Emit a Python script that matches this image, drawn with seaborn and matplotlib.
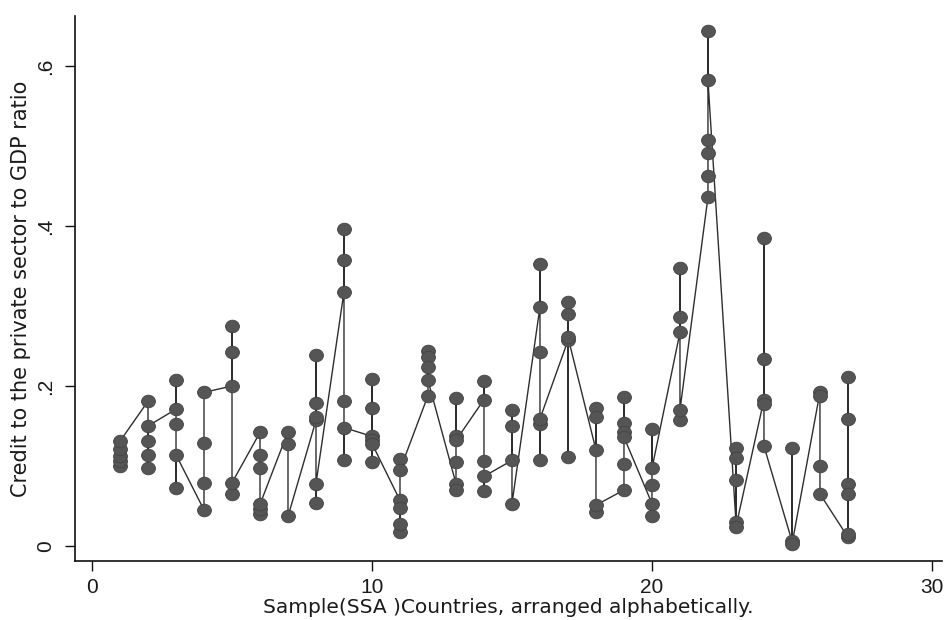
import numpy as np
import pandas as pd
import matplotlib
matplotlib.use("Agg")
import matplotlib.pyplot as plt
from matplotlib.path import Path
import seaborn as sns

# Country index (alphabetical order) for each observation, in data order
country = [1, 1, 1, 1, 1,
           2, 2, 2, 2, 2,
           3, 3, 3, 3, 3,
           4, 4, 4, 4,
           5, 5, 5, 5, 5,
           6, 6, 6, 6, 6, 6,
           7, 7, 7,
           8, 8, 8, 8, 8, 8,
           9, 9, 9, 9, 9, 9,
           10, 10, 10, 10, 10, 10,
           11, 11, 11, 11, 11, 11,
           12, 12, 12, 12, 12,
           13, 13, 13, 13, 13, 13,
           14, 14, 14, 14, 14,
           15, 15, 15, 15,
           16, 16, 16, 16, 16, 16,
           17, 17, 17, 17, 17,
           18, 18, 18, 18, 18,
           19, 19, 19, 19, 19, 19,
           20, 20, 20, 20, 20,
           21, 21, 21, 21, 21,
           22, 22, 22, 22, 22, 22,
           23, 23, 23, 23, 23,
           24, 24, 24, 24, 24,
           25, 25, 25,
           26, 26, 26, 26,
           27, 27, 27, 27, 27, 27]

# Credit to the private sector / GDP, same order
ratio = [0.100, 0.106, 0.113, 0.121, 0.131,
         0.181, 0.098, 0.114, 0.131, 0.150,
         0.171, 0.208, 0.072, 0.153, 0.114,
         0.045, 0.079, 0.129, 0.192,
         0.200, 0.275, 0.243, 0.065, 0.079,
         0.142, 0.114, 0.097, 0.040, 0.046, 0.052,
         0.143, 0.128, 0.037,
         0.157, 0.239, 0.179, 0.161, 0.054, 0.078,
         0.318, 0.396, 0.358, 0.108, 0.181, 0.148,
         0.137, 0.209, 0.172, 0.105, 0.132, 0.128,
         0.057, 0.018, 0.028, 0.047, 0.109, 0.095,
         0.188, 0.244, 0.236, 0.224, 0.207,
         0.078, 0.070, 0.185, 0.105, 0.138, 0.132,
         0.183, 0.206, 0.069, 0.106, 0.087,
         0.107, 0.170, 0.150, 0.053,
         0.299, 0.353, 0.242, 0.108, 0.153, 0.159,
         0.257, 0.305, 0.290, 0.111, 0.261,
         0.120, 0.172, 0.161, 0.043, 0.051,
         0.070, 0.186, 0.154, 0.143, 0.103, 0.136,
         0.053, 0.038, 0.146, 0.076, 0.097,
         0.267, 0.348, 0.286, 0.157, 0.170,
         0.436, 0.463, 0.491, 0.507, 0.644, 0.582,
         0.030, 0.123, 0.110, 0.083, 0.024,
         0.183, 0.385, 0.234, 0.177, 0.125,
         0.006, 0.123, 0.002,
         0.192, 0.188, 0.100, 0.065,
         0.011, 0.211, 0.159, 0.078, 0.065, 0.015]

x_ticks = [0, 10, 20, 30]
x_tick_labels = ["0", "10", "20", "30"]
y_ticks = [0, 0.2, 0.4, 0.6]
y_tick_labels = ["0", ".2", ".4", ".6"]

df = pd.DataFrame({"country": country, "ratio": ratio})

sns.set_theme(style="white")
plt.rcParams["font.family"] = ["Liberation Sans", "DejaVu Sans"]

fig = plt.figure(figsize=(9.46, 6.2), dpi=100)
ax = fig.add_axes([0.0793, 0.0952, 0.9165, 0.879])

circ = Path.unit_circle()
ellipse = Path(circ.vertices * np.array([1.1, 1.0]), circ.codes)

sns.lineplot(data=df, x="country", y="ratio", sort=False, estimator=None,
             ax=ax, color="#2e2e2e", linewidth=1.0,
             marker=ellipse, markersize=10, markerfacecolor="#555555",
             markeredgecolor="#444444", markeredgewidth=0.6)

ax.set_xlim(-0.607, 30.36)
ax.set_ylim(-0.01875, 0.6625)
ax.set_xticks(x_ticks)
ax.set_xticklabels(x_tick_labels, fontsize=15, color="#1a1a1a")
ax.set_yticks(y_ticks)
ax.set_yticklabels(y_tick_labels, fontsize=15, rotation=90, va="center",
                   color="#1a1a1a")

for s in ["top", "right"]:
    ax.spines[s].set_visible(False)
for s in ["left", "bottom"]:
    ax.spines[s].set_color("#111111")
    ax.spines[s].set_linewidth(1.2)

ax.tick_params(axis="both", direction="out", length=7, width=1.0,
               color="#111111", left=True, bottom=True, pad=7)
ax.tick_params(axis="x", pad=5.5)
ax.grid(False)

title_font = ["DejaVu Sans", "Liberation Sans"]
ax.set_xlabel("Sample(SSA )Countries, arranged alphabetically.", fontsize=14.5,
              color="#1a1a1a", labelpad=0.5, family=title_font)
ax.set_ylabel("Credit to the private sector to GDP ratio", fontsize=15,
              color="#1a1a1a", labelpad=4, family=title_font)

fig.savefig("out.png", dpi=100, facecolor="white")
